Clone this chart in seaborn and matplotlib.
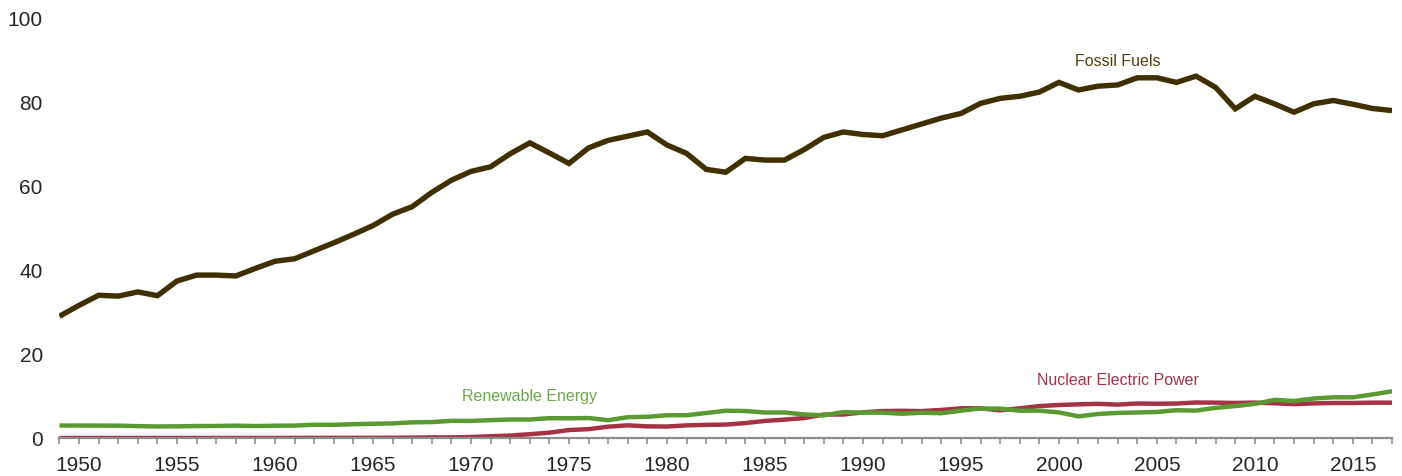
import matplotlib
matplotlib.use("Agg")
import matplotlib.pyplot as plt
import numpy as np
import pandas as pd
import seaborn as sns

YEARS = list(range(1949, 2018))

FOSSIL = [
    29.0, 31.6, 34.0, 33.8, 34.8, 33.9, 37.4, 38.8, 38.8, 38.6,
    40.4, 42.1, 42.7, 44.6, 46.5, 48.5, 50.6, 53.3, 55.1, 58.5,
    61.4, 63.5, 64.6, 67.7, 70.3, 67.9, 65.4, 69.1, 70.9, 71.9,
    72.9, 69.8, 67.8, 64.0, 63.3, 66.6, 66.2, 66.2, 68.7, 71.6,
    72.9, 72.3, 72.0, 73.4, 74.8, 76.2, 77.3, 79.7, 80.9, 81.4,
    82.4, 84.7, 82.9, 83.8, 84.1, 85.8, 85.8, 84.7, 86.2, 83.5,
    78.4, 81.4, 79.6, 77.6, 79.6, 80.4, 79.5, 78.5, 78.0,
]

NUCLEAR = [
    0.0, 0.0, 0.0, 0.0, 0.0, 0.0, 0.0, 0.0, 0.0, 0.002,
    0.002, 0.006, 0.02, 0.026, 0.038, 0.04, 0.043, 0.064, 0.088, 0.142,
    0.154, 0.239, 0.413, 0.584, 0.91, 1.272, 1.9, 2.111, 2.702, 3.024,
    2.776, 2.739, 3.008, 3.131, 3.203, 3.553, 4.076, 4.38, 4.754, 5.587,
    5.602, 6.104, 6.422, 6.479, 6.41, 6.694, 7.075, 7.087, 6.597, 7.068,
    7.61, 7.862, 8.029, 8.145, 7.959, 8.222, 8.161, 8.215, 8.459, 8.426,
    8.356, 8.434, 8.269, 8.062, 8.244, 8.338, 8.337, 8.427, 8.419,
]

RENEWABLE = [
    2.974, 2.978, 2.958, 2.94, 2.831, 2.754, 2.784, 2.85, 2.869, 2.94,
    2.851, 2.928, 2.959, 3.161, 3.137, 3.291, 3.396, 3.471, 3.732, 3.791,
    4.096, 4.074, 4.263, 4.398, 4.412, 4.723, 4.703, 4.76, 4.24, 4.962,
    5.058, 5.423, 5.427, 5.961, 6.493, 6.43, 6.078, 6.082, 5.606, 5.396,
    6.176, 6.036, 6.044, 5.778, 6.032, 5.903, 6.507, 7.012, 7.01, 6.494,
    6.516, 6.102, 5.157, 5.729, 5.983, 6.084, 6.207, 6.624, 6.529, 7.191,
    7.603, 8.127, 9.093, 8.807, 9.411, 9.692, 9.69, 10.37, 11.137,
]

SERIES = ["Fossil Fuels", "Nuclear Electric Power", "Renewable Energy"]
COLORS = {"Fossil Fuels": "#3f3000", "Nuclear Electric Power": "#a63246", "Renewable Energy": "#5a9a30"}
WIDTHS = {"Fossil Fuels": 3.9, "Nuclear Electric Power": 3.2, "Renewable Energy": 3.2}

sns.set_style("white")
plt.rcParams["font.family"] = ["Liberation Sans", "DejaVu Sans"]

df = pd.DataFrame({"Year": YEARS, "Fossil Fuels": FOSSIL,
                   "Nuclear Electric Power": NUCLEAR, "Renewable Energy": RENEWABLE})
long_df = df.melt(id_vars="Year", var_name="Source", value_name="Quads")

fig = plt.figure(figsize=(14.02, 4.76), dpi=100)
ax = fig.add_axes([0.0424, 0.0798, 0.9505, 0.882])

for name in SERIES:
    sub = long_df[long_df["Source"] == name]
    sns.lineplot(data=sub, x="Year", y="Quads", color=COLORS[name],
                 linewidth=WIDTHS[name], ax=ax, legend=False,
                 solid_joinstyle="miter", solid_capstyle="butt")

ax.set_xlim(1949, 2017)
ax.set_ylim(0, 100)
ax.set_xlabel("")
ax.set_ylabel("")

ax.set_xticks(list(range(1950, 2016, 5)))
ax.set_xticks(YEARS, minor=True)
ax.set_yticks([0, 20, 40, 60, 80, 100])
ax.tick_params(axis="x", which="both", direction="out", length=4, width=1.2,
               color="#8c8c8c", labelsize=15, pad=9, bottom=True)
ax.tick_params(axis="y", length=0, labelsize=15, pad=12)

for side in ["left", "right", "top"]:
    ax.spines[side].set_visible(False)
ax.spines["bottom"].set_color("#8c8c8c")
ax.spines["bottom"].set_linewidth(1.6)

ax.text(2003, 89.8, "Fossil Fuels", color="#4f3f10", fontsize=11.5,
        ha="center", va="center")
ax.text(1973, 10.0, "Renewable Energy", color="#6aa84a", fontsize=11.5,
        ha="center", va="center")
ax.text(2003, 13.6, "Nuclear Electric Power", color="#a63246", fontsize=11.5,
        ha="center", va="center")

fig.savefig("out.png", dpi=100)
plt.close(fig)
